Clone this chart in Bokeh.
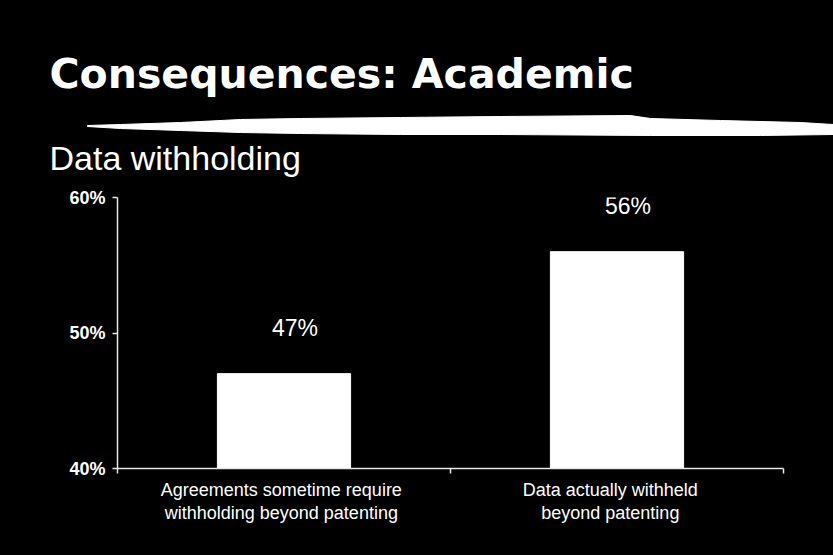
from bokeh.plotting import figure
from bokeh.layouts import column
from bokeh.models import (Range1d, FixedTicker, PrintfTickFormatter,
                          ColumnDataSource, GlobalInlineStyleSheet)
from bokeh.core.properties import value
from bokeh.embed import file_html
from bokeh.resources import INLINE

# ---------------- data ----------------
TITLE = "Consequences:  Academic"
SUBTITLE = "Data withholding"
categories = [
    "Agreements sometime require\nwithholding beyond patenting",
    "Data actually withheld\nbeyond patenting",
]
values = [47, 56]            # percent
y_ticks = [40, 50, 60]       # percent
y_min, y_max = 40, 60

# ---------------- styling ----------------
W = 833
HEAD_H, CHART_H = 180, 375
FG = "white"
AXIS_C = "#e8e8e8"
BAR_WIDTH = 0.4
LABEL_SHIFT = [-0.008, -0.02]   # small shift of each category label (data units)

# ---------- header: title, brush stroke, subtitle ----------
head = figure(width=W, height=HEAD_H, output_backend="svg", toolbar_location=None,
              x_range=Range1d(0, W), y_range=Range1d(HEAD_H, 0),
              x_axis_location=None, y_axis_location=None,
              min_border=0, background_fill_color="black",
              border_fill_color="black", outline_line_color=None)
head.frame_align = False
head.grid.visible = False
head.text(x=[49], y=[73], text=[TITLE], text_color=FG,
          text_font=value("DejaVu Sans"), text_font_style="bold",
          text_font_size="41px", text_align="left", text_baseline="alphabetic")
head.text(x=[49], y=[157], text=[SUBTITLE], text_color=FG,
          text_font=value("Liberation Sans"), text_font_size="34px",
          text_align="left", text_baseline="alphabetic")
# hand-drawn brush stroke outline (decoration, header pixel space)
stroke_x = [87, 120, 180, 240, 300, 400, 500, 630, 650, 720, 800, 833,
            833, 760, 650, 500, 400, 300, 240, 180, 120, 87]
stroke_y = [125, 124, 122, 119, 118, 117, 116, 115, 118, 120, 122, 124,
            134, 135, 135, 134, 134, 133, 132, 130, 128, 126]
head.patch(stroke_x, stroke_y, fill_color=FG, line_color=FG, line_width=1)

# ---------- chart ----------
p = figure(width=W, height=CHART_H, output_backend="svg", toolbar_location=None,
           x_range=Range1d(0, len(categories)), y_range=Range1d(y_min, y_max),
           min_border_left=117, min_border_right=50, min_border_top=17,
           min_border_bottom=87,
           background_fill_color="black", border_fill_color="black",
           outline_line_color=None)
p.frame_align = False
p.grid.visible = False

centers = [i + 0.5 for i in range(len(categories))]
src = ColumnDataSource(dict(x=centers, top=values,
                            lab=["%d%%" % v for v in values]))
p.vbar(x="x", top="top", bottom=y_min, width=BAR_WIDTH, source=src,
       fill_color=FG, line_color=FG)
p.text(x="x", y="top", text="lab", source=src, x_offset=11, y_offset=-46,
       text_color=FG, text_font=value("Liberation Sans"), text_font_size="23px",
       text_align="center", text_baseline="alphabetic")

# y axis
ya = p.yaxis[0]
ya.ticker = FixedTicker(ticks=y_ticks)
ya.formatter = PrintfTickFormatter(format="%d%%")
ya.axis_line_color = AXIS_C
ya.axis_line_width = 1.5
ya.major_tick_line_color = AXIS_C
ya.major_tick_line_width = 1.5
ya.major_tick_in = 0
ya.major_tick_out = 5
ya.minor_tick_line_color = None
ya.major_label_standoff = 7
ya.major_label_text_color = FG
ya.major_label_text_font = "Liberation Sans"
ya.major_label_text_font_style = "bold"
ya.major_label_text_font_size = "18px"

# x axis: labels at category centres, tick marks at category boundaries
label_pos = [c + s for c, s in zip(centers, LABEL_SHIFT)]
xa = p.xaxis[0]
xa.ticker = FixedTicker(ticks=label_pos,
                        minor_ticks=list(range(len(categories) + 1)))
xa.major_label_overrides = {pos: txt for pos, txt in zip(label_pos, categories)}
xa.major_label_orientation = "horizontal"
xa.major_label_standoff = 6
xa.major_label_text_color = FG
xa.major_label_text_font = "Liberation Sans"
xa.major_label_text_font_size = "18px"
xa.major_label_text_line_height = 1.17
xa.axis_line_color = AXIS_C
xa.axis_line_width = 1.5
xa.major_tick_line_color = None
xa.major_tick_in = 0
xa.major_tick_out = 0
xa.minor_tick_line_color = AXIS_C
xa.minor_tick_line_width = 1.5
xa.minor_tick_in = 0
xa.minor_tick_out = 5

layout = column(head, p, spacing=0)
layout.stylesheets = [GlobalInlineStyleSheet(css="html, body { background-color: #000; }")]

open("out.html", "w").write(file_html(layout, INLINE))
